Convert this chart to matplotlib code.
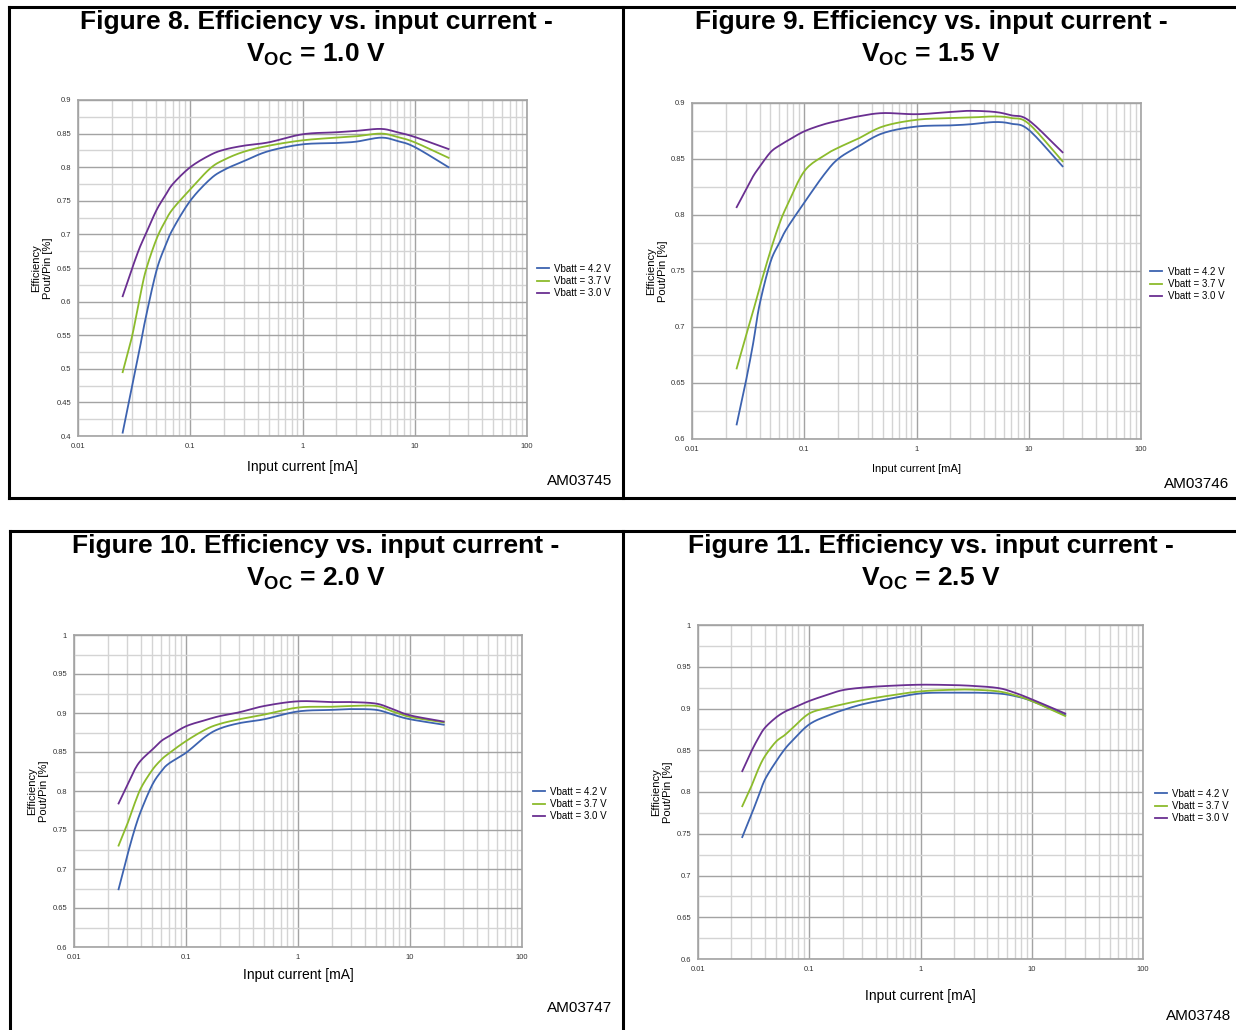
"""
plot.py  –  Efficiency vs. input current, four V_OC cases (2x2 datasheet figures)
"""

import numpy as np
import matplotlib
matplotlib.use("Agg")
import matplotlib.pyplot as plt
from matplotlib.ticker import FixedLocator, NullFormatter, LogLocator

plt.rcParams["font.family"] = ["Liberation Sans", "DejaVu Sans"]
plt.rcParams["mathtext.fontset"] = "custom"
plt.rcParams["mathtext.rm"] = "Liberation Sans"
plt.rcParams["mathtext.bf"] = "Liberation Sans:bold"

W, H = 1236, 1030

COLORS = {"4.2": "#3d63b0", "3.7": "#8cbb2c", "3.0": "#6a2f91"}
LABELS = {"4.2": "Vbatt = 4.2 V", "3.7": "Vbatt = 3.7 V", "3.0": "Vbatt = 3.0 V"}

# input current [mA] – same sampling for every curve
CURRENT = [0.025, 0.03, 0.035, 0.04, 0.05, 0.06, 0.07, 0.1, 0.15, 0.2,
           0.3, 0.5, 1, 2, 3, 5, 7, 10, 20]

# Figure 8 – Voc = 1.0 V
F8_42 = [0.405, 0.470, 0.525, 0.575, 0.646, 0.683, 0.708, 0.750, 0.782, 0.796,
         0.809, 0.824, 0.834, 0.836, 0.838, 0.844, 0.839, 0.830, 0.800]
F8_37 = [0.495, 0.545, 0.600, 0.645, 0.693, 0.720, 0.738, 0.767, 0.798, 0.811,
         0.823, 0.832, 0.840, 0.844, 0.846, 0.850, 0.845, 0.837, 0.814]
F8_30 = [0.608, 0.647, 0.678, 0.700, 0.736, 0.758, 0.775, 0.800, 0.818, 0.826,
         0.832, 0.837, 0.849, 0.852, 0.854, 0.857, 0.852, 0.845, 0.827]

# Figure 9 – Voc = 1.5 V
F9_42 = [0.613, 0.650, 0.685, 0.720, 0.758, 0.775, 0.788, 0.811, 0.836, 0.850,
         0.861, 0.873, 0.879, 0.880, 0.881, 0.883, 0.8815, 0.876, 0.8435]
F9_37 = [0.663, 0.691, 0.714, 0.735, 0.768, 0.792, 0.808, 0.839, 0.853, 0.860,
         0.868, 0.879, 0.885, 0.8865, 0.887, 0.888, 0.8866, 0.8815, 0.848]
F9_30 = [0.807, 0.822, 0.8345, 0.843, 0.856, 0.862, 0.866, 0.8747, 0.881, 0.884,
         0.888, 0.891, 0.890, 0.892, 0.893, 0.892, 0.889, 0.8845, 0.856]

# Figure 10 – Voc = 2.0 V
F10_42 = [0.674, 0.718, 0.752, 0.776, 0.808, 0.825, 0.835, 0.849, 0.870, 0.880,
          0.887, 0.892, 0.902, 0.904, 0.905, 0.904, 0.898, 0.892, 0.885]
F10_37 = [0.730, 0.758, 0.785, 0.805, 0.827, 0.840, 0.848, 0.864, 0.879, 0.886,
          0.892, 0.898, 0.907, 0.908, 0.909, 0.909, 0.902, 0.895, 0.888]
F10_30 = [0.784, 0.808, 0.828, 0.840, 0.853, 0.864, 0.870, 0.883, 0.891, 0.896,
          0.901, 0.909, 0.915, 0.914, 0.914, 0.912, 0.905, 0.897, 0.889]

# Figure 11 – Voc = 2.5 V
F11_42 = [0.746, 0.772, 0.795, 0.815, 0.836, 0.851, 0.861, 0.881, 0.892, 0.898,
          0.905, 0.911, 0.918, 0.919, 0.919, 0.918, 0.915, 0.909, 0.892]
F11_37 = [0.783, 0.806, 0.828, 0.843, 0.860, 0.868, 0.876, 0.894, 0.901, 0.905,
          0.910, 0.915, 0.9205, 0.9225, 0.9225, 0.9205, 0.916, 0.909, 0.891]
F11_30 = [0.825, 0.848, 0.865, 0.877, 0.889, 0.896, 0.900, 0.909, 0.917, 0.922,
          0.925, 0.927, 0.9285, 0.928, 0.927, 0.9245, 0.919, 0.911, 0.894]

PANELS = [
    # title number, Voc, series, y-limits, AM code, axes box px (l, t, r, b)
    ("8",  "1.0", {"4.2": F8_42,  "3.7": F8_37,  "3.0": F8_30},  (0.4, 0.9), "AM03745", (78, 100, 527, 436)),
    ("9",  "1.5", {"4.2": F9_42,  "3.7": F9_37,  "3.0": F9_30},  (0.6, 0.9), "AM03746", (692, 103, 1141, 439)),
    ("10", "2.0", {"4.2": F10_42, "3.7": F10_37, "3.0": F10_30}, (0.6, 1.0), "AM03747", (74, 635, 522, 947)),
    ("11", "2.5", {"4.2": F11_42, "3.7": F11_37, "3.0": F11_30}, (0.6, 1.0), "AM03748", (698, 625, 1143, 959)),
]

# title centre x, title y, xlabel y, xlabel size, AM (right x, y), legend (x, y), ylabel x
EXTRA = [
    (316, 22, 467, 10, (612, 481), (537, 267), 42),
    (931, 22, 469, 8, (1229, 484), (1150, 270), 657),
    (316, 546, 975, 10, (612, 1008), (533, 790), 38),
    (931, 546, 996, 10, (1231, 1016), (1155, 792), 662),
]


def smooth(x, y, n=12):
    """Catmull-Rom through the read points in log-x, like Excel's smoothed lines."""
    lx = np.log10(x); y = np.asarray(y, float)
    px = np.concatenate([[2*lx[0]-lx[1]], lx, [2*lx[-1]-lx[-2]]])
    py = np.concatenate([[2*y[0]-y[1]], y, [2*y[-1]-y[-2]]])
    xs, ys = [], []
    t = np.linspace(0, 1, n, endpoint=False)
    for i in range(1, len(px)-2):
        for arr, out in ((px, xs), (py, ys)):
            p0, p1, p2, p3 = arr[i-1], arr[i], arr[i+1], arr[i+2]
            out.extend(0.5*((2*p1) + (-p0+p2)*t + (2*p0-5*p1+4*p2-p3)*t**2
                            + (-p0+3*p1-3*p2+p3)*t**3))
    xs.append(lx[-1]); ys.append(y[-1])
    return 10**np.array(xs), np.array(ys)


def px_axes(fig, box):
    l, t, r, b = box
    return fig.add_axes([l/W, 1-b/H, (r-l)/W, (b-t)/H])


fig = plt.figure(figsize=(W/100, H/100), dpi=100)

# frame lines around the four figures
for (x0, y0, x1, y1) in [(9, 7, 1236, 7), (9, 498, 1236, 498), (9, 7, 9, 498), (623, 7, 623, 498),
                         (10, 531, 1236, 531), (10, 531, 10, 1030), (623, 531, 623, 1030)]:
    fig.add_artist(plt.Line2D([x0/W, x1/W], [1-y0/H, 1-y1/H], color="black", lw=2.2))

for (num, voc, series, ylim, code, box), (tx, ty, xly, xls, am, lg, ylx) in zip(PANELS, EXTRA):
    ax = px_axes(fig, box)
    for key in ["4.2", "3.7", "3.0"]:
        sx, sy = smooth(CURRENT, series[key])
        ax.plot(sx, sy, color=COLORS[key], lw=1.3, label=LABELS[key])

    ax.set_xscale("log")
    ax.set_xlim(0.01, 100)
    ax.set_ylim(*ylim)
    ax.xaxis.set_major_locator(FixedLocator([0.01, 0.1, 1, 10, 100]))
    ax.set_xticklabels(["0.01", "0.1", "1", "10", "100"])
    ax.xaxis.set_minor_locator(LogLocator(base=10, subs=np.arange(2, 10)))
    ax.xaxis.set_minor_formatter(NullFormatter())
    yt = np.round(np.arange(ylim[0], ylim[1] + 1e-9, 0.05), 3)
    ax.yaxis.set_major_locator(FixedLocator(yt))
    ax.set_yticklabels([f"{v:g}" for v in yt])
    ax.yaxis.set_minor_locator(FixedLocator(np.round(yt[:-1] + 0.025, 3)))
    ax.tick_params(which="both", length=0, labelsize=5.5, colors="#333333", pad=5)
    ax.grid(True, which="major", color="#a3a3a3", lw=1.0)
    ax.grid(True, which="minor", color="#d4d4d4", lw=1.0)
    ax.set_axisbelow(True)
    for s in ax.spines.values():
        s.set_color("#a3a3a3"); s.set_linewidth(1.2)

    fig.text(tx/W, 1-ty/H, f"Figure {num}. Efficiency vs. input current -",
             ha="center", va="center", fontsize=19, fontweight="bold")
    fig.text(tx/W, 1-(ty+33)/H, r"$\mathbf{V_{OC}}$" + f" = {voc} V",
             ha="center", va="center", fontsize=19, fontweight="bold")
    fig.text(((box[0]+box[2])/2)/W, 1-xly/H, "Input current [mA]",
             ha="center", va="center", fontsize=xls)
    fig.text(am[0]/W, 1-am[1]/H, code, ha="right", va="center", fontsize=11)
    fig.text(ylx/W, 1-((box[1]+box[3])/2)/H, "Efficiency\nPout/Pin [%]", rotation=90,
             ha="center", va="center", fontsize=8, linespacing=1.15)

    handles, labels = ax.get_legend_handles_labels()
    fig.legend(handles, labels, loc="center left", bbox_to_anchor=(lg[0]/W, 1-(lg[1]+14)/H),
               frameon=False, fontsize=7, handlelength=1.2, handletextpad=0.6,
               labelspacing=0.25, borderaxespad=0, borderpad=0)

plt.savefig("out.png", dpi=100)
plt.close()
